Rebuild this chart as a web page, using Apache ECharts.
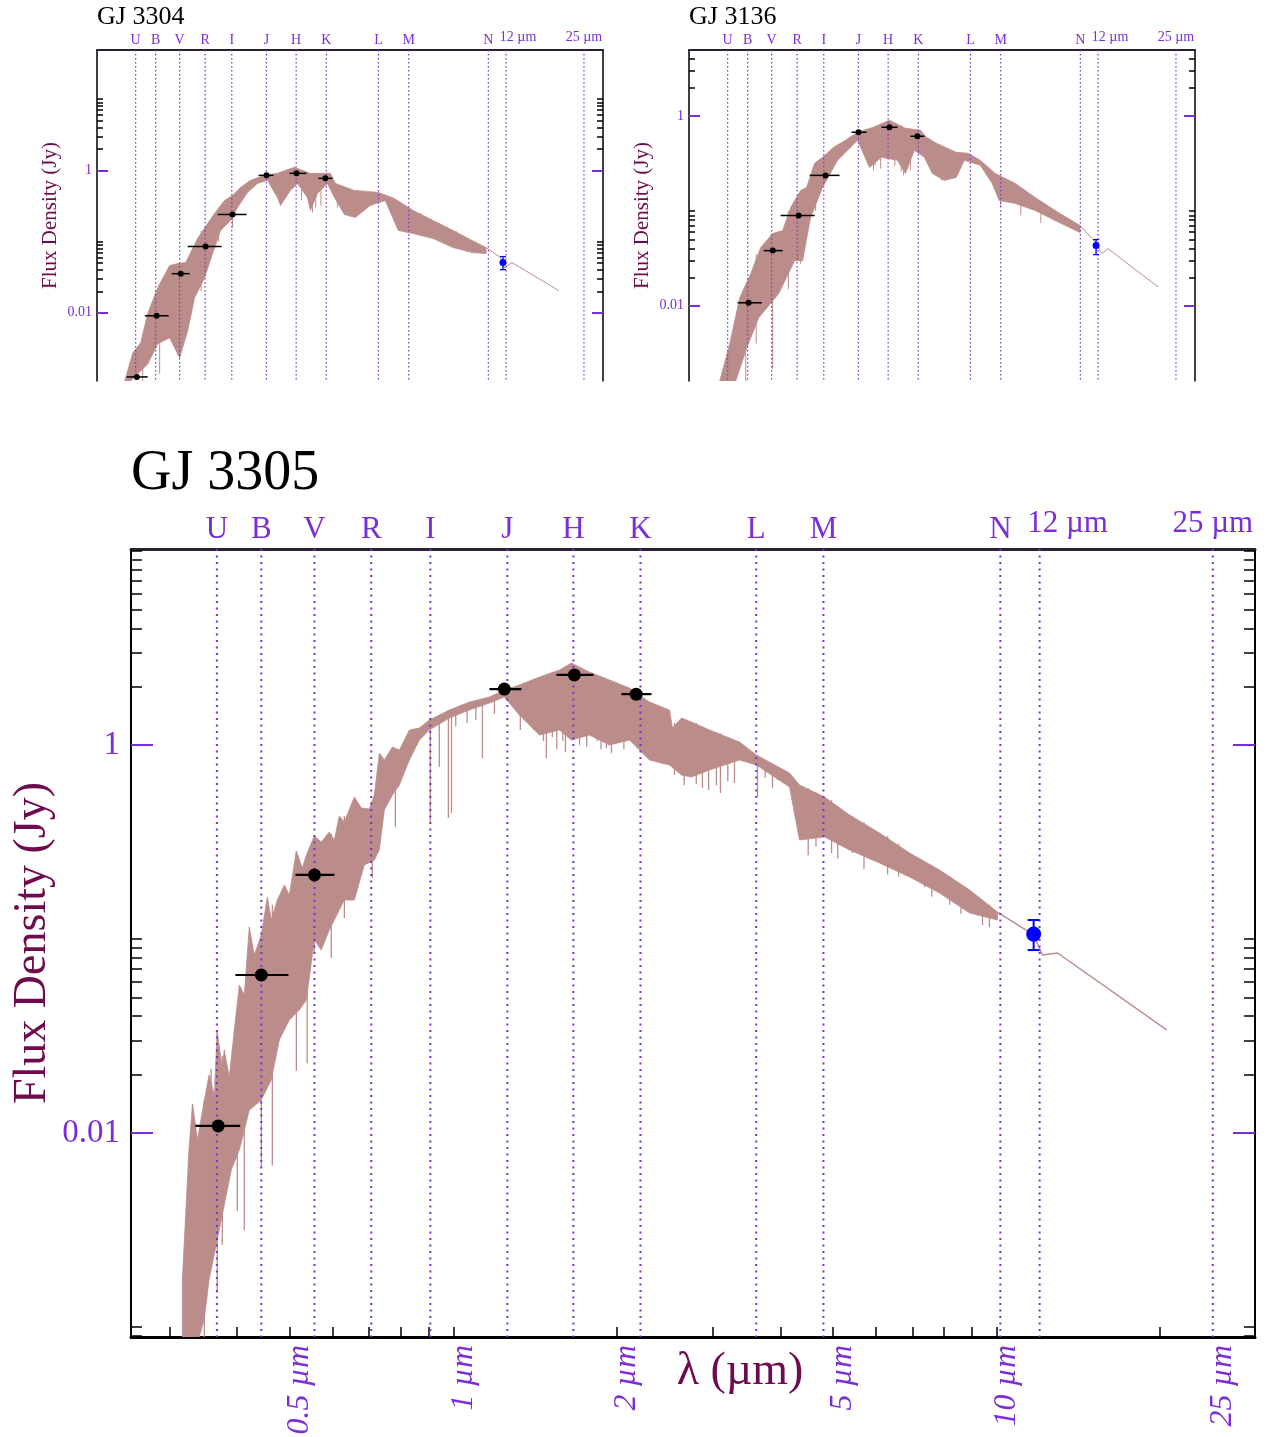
<!DOCTYPE html>
<html>
<head>
<meta charset="utf-8">
<title>GJ 3305 SED</title>
<script src="https://cdn.jsdelivr.net/npm/echarts@6/dist/echarts.min.js"></script>
<style>
  html, body { margin: 0; padding: 0; background: #fff; }
  #chart { width: 1271px; height: 1437px; }
</style>
</head>
<body>
<div id="chart"></div>
<script>
// ---------------- shared axis values ----------------
var bandNames = ['U', 'B', 'V', 'R', 'I', 'J', 'H', 'K', 'L', 'M', 'N'];
var bandWave = [0.367, 0.443, 0.555, 0.706, 0.907, 1.257, 1.663, 2.21, 3.61, 4.80, 10.16];
var micronWave = [12, 25];
var micronNames = ['12 µm', '25 µm'];
var xTickVals = [0.3, 0.4, 0.5, 0.6, 0.7, 0.8, 0.9, 1, 2, 3, 4, 5, 6, 7, 8, 9, 10, 20];
var xLabelVals = [0.5, 1, 2, 5, 10, 25];
var yMajorVals = [1, 0.01];
var yMinorVals = [2, 3, 4, 5, 6, 7, 8, 9, 10,
  0.02, 0.03, 0.04, 0.05, 0.06, 0.07, 0.08, 0.09, 0.1,
  0.0002, 0.0003, 0.0004, 0.0005, 0.0006, 0.0007, 0.0008, 0.0009, 0.001];
var xMin = 0.255, xMax = 29.9;

// ---------------- GJ 3305 (big panel) ----------------
// model spectrum: upper and lower edge of the absorption-line band (Jy)
var mainTopWave = [0.317, 0.326, 0.331, 0.338, 0.348, 0.355, 0.363, 0.3675, 0.3755, 0.3786, 0.3868, 0.3951, 0.4036, 0.4122,
  0.4210, 0.4300, 0.4430, 0.4545, 0.4622, 0.4742, 0.4885, 0.4989, 0.5139, 0.5271, 0.5362, 0.5546, 0.5713, 0.5909, 0.6037,
  0.6166, 0.6298, 0.6571, 0.6770, 0.7003, 0.7153, 0.7307, 0.7463, 0.7722, 0.7954, 0.8299, 0.8658, 0.9033, 0.9831, 1.070,
  1.165, 1.241, 1.323, 1.440, 1.568, 1.649, 1.780, 1.938, 2.110, 2.296, 2.499, 2.531, 2.630, 2.744, 2.961, 3.363, 3.614,
  4.157, 4.337, 4.824, 5.363, 6.088, 6.917, 7.852, 8.920, 10.04];
var mainTopFlux = [0.00175, 0.0082, 0.0141, 0.0092, 0.0148, 0.0199, 0.0157, 0.0336, 0.0211, 0.0268, 0.0194, 0.0340, 0.0579, 0.0514,
  0.1153, 0.0827, 0.1049, 0.1646, 0.1253, 0.1589, 0.1899, 0.1686, 0.2842, 0.2323, 0.2710, 0.3396, 0.3162, 0.3560, 0.3238,
  0.4305, 0.4010, 0.5395, 0.4734, 0.4678, 0.5525, 0.9095, 0.8369, 0.9765, 0.9424, 1.195, 1.224, 1.346, 1.515, 1.665,
  1.768, 1.920, 2.038, 2.242, 2.436, 2.647, 2.378, 2.163, 1.967, 1.665, 1.515, 1.224, 1.378, 1.314, 1.195, 1.036, 0.8882,
  0.7172, 0.6220, 0.5395, 0.4356, 0.3518, 0.2775, 0.2268, 0.1789, 0.1377];
var mainBotWave = [0.317, 0.3405, 0.348, 0.355, 0.3707, 0.3901, 0.4036, 0.4210, 0.4430, 0.4622, 0.4782, 0.4989, 0.5205, 0.5362,
  0.5546, 0.5713, 0.5909, 0.6298, 0.6571, 0.6856, 0.7153, 0.7307, 0.7463, 0.7722, 0.7954, 0.8299, 0.8658, 0.9033, 0.9831,
  1.070, 1.165, 1.241, 1.323, 1.440, 1.568, 1.649, 1.780, 1.938, 2.110, 2.296, 2.499, 2.630, 2.744, 2.961, 3.363, 3.614,
  4.157, 4.337, 4.824, 5.363, 6.088, 6.917, 7.852, 8.920, 10.04];
var mainBotFlux = [0.0006, 0.0006, 0.0011, 0.00175, 0.00316, 0.00645, 0.00818, 0.0131, 0.0148, 0.0188, 0.0302, 0.0382, 0.0431, 0.0485,
  0.0989, 0.0877, 0.1112, 0.1589, 0.1589, 0.2406, 0.2554, 0.2875, 0.4623, 0.5525, 0.6220, 0.8369, 1.061, 1.195, 1.378,
  1.515, 1.646, 1.768, 1.428, 1.126, 1.195, 1.061, 1.126, 1.0, 1.061, 0.8369, 0.7887, 0.7003, 0.6840, 0.7433, 0.8369, 0.7887,
  0.6074, 0.3238, 0.3355, 0.2875, 0.2464, 0.2087, 0.1726, 0.1361, 0.1253];
// single absorption lines reaching below the band
var mainSpikeWave = [0.331, 0.348, 0.358, 0.3675, 0.3755, 0.4002, 0.4122, 0.443, 0.4642, 0.514, 0.538, 0.5546, 0.596, 0.630,
  0.709, 0.782, 0.907, 0.942, 0.979, 0.992, 1.01, 1.06, 1.10, 1.131, 1.19, 1.328, 1.363, 1.404, 1.465, 1.483, 1.521, 1.55,
  1.59, 1.608, 1.63, 1.707, 1.73, 1.76, 1.84, 1.87, 1.913, 1.954, 2.02, 2.06, 2.24, 2.316, 2.38, 2.44, 2.553, 2.66, 2.80,
  2.874, 2.95, 3.05, 3.102, 3.2, 3.292, 3.630, 3.75, 3.868, 3.95, 4.5, 4.65, 4.968, 5.1, 5.43, 5.7, 6.3, 6.6, 7.37, 7.6,
  8.2, 8.6, 9.42, 9.7];
var mainSpikeHigh = [0.0141, 0.0148, 0.0214, 0.0336, 0.025, 0.015, 0.05, 0.10, 0.15, 0.28, 0.27, 0.34, 0.35, 0.43,
  0.5, 0.95, 1.33, 1.40, 1.48, 1.49, 1.55, 1.62, 1.7, 1.72, 1.8, 2.04, 2.1, 2.15, 2.25, 2.3, 2.35, 2.4,
  2.45, 2.5, 2.55, 2.5, 2.45, 2.4, 2.3, 2.25, 2.2, 2.15, 2.0, 1.95, 1.75, 1.66, 1.6, 1.55, 1.3, 1.35, 1.3,
  1.25, 1.2, 1.15, 1.15, 1.1, 1.06, 0.88, 0.84, 0.78, 0.77, 0.6, 0.57, 0.52, 0.48, 0.43, 0.40, 0.34, 0.31, 0.25, 0.24,
  0.21, 0.19, 0.155, 0.15];
var mainSpikeLow = [0.00117, 0.0006, 0.00291, 0.0015, 0.00265, 0.00396, 0.00316, 0.00668, 0.0068, 0.0209, 0.0229, 0.0858, 0.0799, 0.1283,
  0.2062, 0.378, 0.396, 0.770, 0.4205, 0.4462, 1.25, 1.3, 1.35, 0.857, 1.45, 1.195, 1.35, 1.2, 1.05, 0.857, 1.1, 0.95,
  1.05, 0.92, 1.2, 1.0, 1.1, 0.98, 1.05, 0.95, 0.965, 0.91, 1.05, 0.95, 0.95, 0.867, 0.85, 0.8, 0.70, 0.62, 0.63,
  0.6005, 0.586, 0.62, 0.566, 0.65, 0.637, 0.54, 0.68, 0.60, 0.66, 0.27, 0.30, 0.2775, 0.26, 0.2775, 0.23, 0.215, 0.21, 0.185, 0.165,
  0.15, 0.135, 0.118, 0.115];
// thin long-wavelength tail
var mainTailWave = [10.04, 11.7, 12.15, 12.95, 20.56];
var mainTailFlux = [0.1377, 0.1049, 0.0827, 0.0847, 0.034];
// photometry (black) with filter widths, and the mid-IR point (blue)
var mainPhotWave = [0.369, 0.443, 0.555, 1.241, 1.670, 2.170];
var mainPhotFlux = [0.01087, 0.0652, 0.214, 1.944, 2.30, 1.83];
var mainPhotLo = [0.335, 0.397, 0.512, 1.165, 1.548, 2.039];
var mainPhotHi = [0.405, 0.497, 0.604, 1.334, 1.811, 2.316];
var mainIrWave = [11.7];
var mainIrFlux = [0.106];
var mainIrLo = [0.0877];
var mainIrHi = [0.1253];

// ---------------- GJ 3304 (top left) ----------------
var leftTopWave = [0.331, 0.357, 0.3848, 0.411, 0.4516, 0.5055, 0.5448, 0.5875, 0.6577, 0.7225, 0.7717, 0.8476, 0.9138, 0.985,
  1.082, 1.234, 1.395, 1.636, 1.902, 2.295, 2.405, 2.876, 3.605, 4.189, 5.006, 6.04, 7.294, 8.715, 9.945];
var leftTopFlux = [0.0011, 0.00273, 0.00378, 0.00968, 0.0225, 0.0459, 0.049, 0.0506, 0.1103, 0.1793, 0.248, 0.378, 0.4445, 0.5762,
  0.7232, 0.8503, 0.9074, 1.102, 0.9074, 0.9074, 0.656, 0.5227, 0.49, 0.4034, 0.2732, 0.1976, 0.1429, 0.1033, 0.0823];
var leftBotWave = [0.3503, 0.411, 0.4516, 0.5055, 0.5552, 0.5987, 0.6393, 0.7023, 0.757, 0.8164, 0.8969, 0.9577, 1.052, 1.156,
  1.270, 1.395, 1.435, 1.576, 1.683, 1.849, 1.902, 2.031, 2.232, 2.384, 2.618, 2.903, 3.343, 3.848, 4.349, 5.006, 6.04,
  7.294, 8.715, 9.945];
var leftBotFlux = [0.0008, 0.00191, 0.00366, 0.00445, 0.00232, 0.00558, 0.01627, 0.0311, 0.0678, 0.1429, 0.1976, 0.3012, 0.49, 0.656,
  0.7232, 0.4167, 0.3214, 0.5227, 0.656, 0.4167, 0.2732, 0.4744, 0.656, 0.4167, 0.24, 0.2178, 0.3214, 0.378, 0.1429, 0.1297, 0.1103,
  0.0823, 0.070, 0.0678];
var leftSpikeWave = [0.392, 0.460, 0.48, 0.5448, 0.62, 0.68, 0.80, 0.914, 1.45, 1.52, 1.75, 1.85, 1.939, 2.0, 2.1, 2.45, 2.6,
  4.6, 5.4, 6.4, 7.5, 8.3];
var leftSpikeHigh = [0.003, 0.02, 0.03, 0.049, 0.07, 0.14, 0.3, 0.44, 0.95, 0.95, 1.0, 0.95, 0.9, 0.9, 0.9, 0.62, 0.56,
  0.33, 0.25, 0.18, 0.14, 0.11];
var leftSpikeLow = [0.0008, 0.00138, 0.004, 0.0032, 0.012, 0.02, 0.1, 0.1575, 0.4, 0.45, 0.38, 0.42, 0.2557, 0.3, 0.32, 0.3, 0.26,
  0.16, 0.12, 0.1, 0.085, 0.072];
var leftTailWave = [9.945, 11.4, 11.8, 12.7, 19.75];
var leftTailFlux = [0.0823, 0.0595, 0.043, 0.0506, 0.0204];
var leftPhotWave = [0.371, 0.447, 0.561, 0.709, 0.914, 1.258, 1.668, 2.190];
var leftPhotFlux = [0.001255, 0.00907, 0.0354, 0.0851, 0.240, 0.8503, 0.9074, 0.7718];
var leftPhotLo = [0.337, 0.400, 0.515, 0.599, 0.794, 1.167, 1.561, 2.051];
var leftPhotHi = [0.411, 0.501, 0.610, 0.824, 1.042, 1.344, 1.832, 2.339];
var leftIrWave = [11.66];
var leftIrFlux = [0.0506];
var leftIrLo = [0.0403];
var leftIrHi = [0.0615];

// ---------------- GJ 3136 (top right) ----------------
var rightTopWave = [0.3406, 0.3742, 0.411, 0.4559, 0.5007, 0.5605, 0.6158, 0.6641, 0.7294, 0.7717, 0.8318, 0.8969, 0.9945, 1.113,
  1.246, 1.448, 1.683, 1.956, 2.253, 2.384, 2.618, 3.158, 3.537, 3.960, 4.558, 5.500, 6.638, 8.012, 10.13];
var rightTopFlux = [0.00161, 0.00396, 0.01215, 0.0218, 0.0411, 0.0578, 0.0622, 0.1089, 0.1648, 0.1773, 0.3181, 0.3683, 0.4695, 0.557,
  0.6771, 0.7649, 0.9072, 0.7464, 0.711, 0.5995, 0.5179, 0.416, 0.406, 0.3422, 0.2493, 0.1954, 0.139, 0.1012, 0.0702];
var rightBotWave = [0.347, 0.3959, 0.4391, 0.4913, 0.593, 0.6893, 0.743, 0.8012, 0.8969, 1.033, 1.246, 1.395, 1.561, 1.815,
  1.956, 2.130, 2.339, 2.521, 2.822, 3.158, 3.406, 3.960, 4.430, 4.733, 5.500, 6.638, 8.012, 10.13];
var rightBotFlux = [0.0008, 0.0008, 0.00359, 0.00746, 0.0134, 0.0299, 0.0299, 0.0853, 0.1773, 0.3422, 0.557, 0.2886, 0.3683, 0.3422,
  0.2493, 0.4367, 0.3683, 0.2493, 0.2102, 0.2262, 0.3422, 0.3031, 0.1954, 0.1291, 0.1201, 0.1012, 0.0793, 0.0592];
var rightSpikeWave = [0.435, 0.48, 0.5605, 0.65, 0.7294, 0.84, 1.448, 1.47, 1.55, 1.77, 1.88, 1.92, 2.05, 2.45, 2.75,
  4.8, 5.8, 7.0];
var rightSpikeHigh = [0.012, 0.035, 0.05, 0.1, 0.16, 0.32, 0.75, 0.75, 0.8, 0.85, 0.8, 0.75, 0.72, 0.58, 0.5,
  0.22, 0.17, 0.12];
var rightSpikeLow = [0.0008, 0.004, 0.00215, 0.015, 0.0278, 0.1, 0.268, 0.3, 0.28, 0.3, 0.26, 0.2375, 0.27, 0.3, 0.21,
  0.11, 0.09, 0.075];
var rightTailWave = [10.13, 11.56, 12.46, 13.18, 19.56, 21.09];
var rightTailFlux = [0.0702, 0.0487, 0.0355, 0.0401, 0.0184, 0.0159];
var rightPhotWave = [0.447, 0.561, 0.716, 0.922, 1.258, 1.683, 2.190];
var rightPhotFlux = [0.01076, 0.0382, 0.0896, 0.2375, 0.6771, 0.7649, 0.6143];
var rightPhotLo = [0.403, 0.515, 0.604, 0.794, 1.178, 1.561, 2.051];
var rightPhotHi = [0.506, 0.616, 0.832, 1.052, 1.356, 1.815, 2.339];
var rightIrWave = [11.78];
var rightIrFlux = [0.0432];
var rightIrLo = [0.0347];
var rightIrHi = [0.0499];

// ---------------- styles ----------------
var specColor = '#bb8d8a';
var purple = '#7a2ed6';
var maroon = '#6d0b4d';
var serif = 'Liberation Serif';

var bigStyle = {
  tickFont: 33, tickMargin: 11, nameFont: 46, nameGap: 75, bandFont: 31, bandMargin: 4, microMargin: 10, microPad: 56,
  majorLen: 22, minorLen: 11, frameWidth: 2, topWidth: 3, dotWidth: 2, dotDash: [2, 4.5], spikeWidth: 1.3, tailWidth: 1.4,
  pointSize: 13, barWidth: 2.2, irSize: 15, irWidth: 2, capHalf: 6, showBottom: true
};
var smallStyle = {
  tickFont: 14, tickMargin: 5, nameFont: 21, nameGap: 36, bandFont: 14, bandMargin: 3, microMargin: 6, microPad: 24,
  majorLen: 11, minorLen: 6, frameWidth: 1.5, topWidth: 2, dotWidth: 1.2, dotDash: [1.5, 2.5], spikeWidth: 1, tailWidth: 1,
  pointSize: 6, barWidth: 1.5, irSize: 7, irWidth: 1.3, capHalf: 3, showBottom: false
};

var panels = [
  {
    title: 'GJ 3304', titleLeft: 97, titleTop: 4, titleSize: 26, rect: [97, 50, 506, 331], yMin: 0.0011, yMax: 49, st: smallStyle,
    topWave: leftTopWave, topFlux: leftTopFlux, botWave: leftBotWave, botFlux: leftBotFlux,
    spikeWave: leftSpikeWave, spikeHigh: leftSpikeHigh, spikeLow: leftSpikeLow,
    tailWave: leftTailWave, tailFlux: leftTailFlux,
    photWave: leftPhotWave, photFlux: leftPhotFlux, photLo: leftPhotLo, photHi: leftPhotHi,
    irWave: leftIrWave, irFlux: leftIrFlux, irLo: leftIrLo, irHi: leftIrHi
  },
  {
    title: 'GJ 3136', titleLeft: 689, titleTop: 4, titleSize: 26, rect: [689, 50, 506, 331], yMin: 0.00161, yMax: 4.99, st: smallStyle,
    topWave: rightTopWave, topFlux: rightTopFlux, botWave: rightBotWave, botFlux: rightBotFlux,
    spikeWave: rightSpikeWave, spikeHigh: rightSpikeHigh, spikeLow: rightSpikeLow,
    tailWave: rightTailWave, tailFlux: rightTailFlux,
    photWave: rightPhotWave, photFlux: rightPhotFlux, photLo: rightPhotLo, photHi: rightPhotHi,
    irWave: rightIrWave, irFlux: rightIrFlux, irLo: rightIrLo, irHi: rightIrHi
  },
  {
    title: 'GJ 3305', titleLeft: 131, titleTop: 446, titleSize: 56, rect: [131, 549, 1124, 788], yMin: 0.000887, yMax: 10.25, st: bigStyle,
    topWave: mainTopWave, topFlux: mainTopFlux, botWave: mainBotWave, botFlux: mainBotFlux,
    spikeWave: mainSpikeWave, spikeHigh: mainSpikeHigh, spikeLow: mainSpikeLow,
    tailWave: mainTailWave, tailFlux: mainTailFlux,
    photWave: mainPhotWave, photFlux: mainPhotFlux, photLo: mainPhotLo, photHi: mainPhotHi,
    irWave: mainIrWave, irFlux: mainIrFlux, irLo: mainIrLo, irHi: mainIrHi
  }
];

function zip(a, b) {
  return a.map(function (v, i) { return [v, b[i]]; });
}
function zip4(a, b, c, d) {
  return a.map(function (v, i) { return [v, b[i], c[i], d[i]]; });
}
function bandLabel(v) {
  for (var i = 0; i < bandWave.length; i++) {
    if (Math.abs(Math.log(v / bandWave[i])) < 0.005) return bandNames[i];
  }
  return '';
}

// polygon between the two envelopes + single deep lines, drawn via the axes
function spectrumRender(p) {
  return function (params, api) {
    var cs = params.coordSys;
    var yLow = cs.y + cs.height;
    function pt(w, f) {
      var c = api.coord([w, f]);
      return [c[0], Math.min(c[1], yLow)];
    }
    var pts = [];
    for (var i = 0; i < p.topWave.length; i++) pts.push(pt(p.topWave[i], p.topFlux[i]));
    for (var j = p.botWave.length - 1; j >= 0; j--) pts.push(pt(p.botWave[j], p.botFlux[j]));
    var children = [{
      type: 'polygon', shape: { points: pts },
      style: { fill: specColor, stroke: specColor, lineWidth: 0.8 }
    }];
    for (var k = 0; k < p.spikeWave.length; k++) {
      var a = pt(p.spikeWave[k], p.spikeHigh[k]);
      var b = pt(p.spikeWave[k], p.spikeLow[k]);
      children.push({
        type: 'line', shape: { x1: a[0], y1: a[1], x2: b[0], y2: b[1] },
        style: { stroke: specColor, lineWidth: p.st.spikeWidth }
      });
    }
    return { type: 'group', children: children };
  };
}

function bandLineRender(st) {
  return function (params, api) {
    var cs = params.coordSys;
    var x = api.coord([api.value(0), api.value(1)])[0];
    return {
      type: 'line', shape: { x1: x, y1: cs.y, x2: x, y2: cs.y + cs.height },
      style: { stroke: purple, lineWidth: st.dotWidth, lineDash: st.dotDash }
    };
  };
}

function hBarRender(st) {
  return function (params, api) {
    var a = api.coord([api.value(2), api.value(1)]);
    var b = api.coord([api.value(3), api.value(1)]);
    return {
      type: 'line', shape: { x1: a[0], y1: a[1], x2: b[0], y2: b[1] },
      style: { stroke: '#000', lineWidth: st.barWidth }
    };
  };
}

function vBarRender(st) {
  return function (params, api) {
    var lo = api.coord([api.value(0), api.value(2)]);
    var hi = api.coord([api.value(0), api.value(3)]);
    var s = { stroke: '#0000ff', lineWidth: st.irWidth };
    var c = st.capHalf;
    return {
      type: 'group', children: [
        { type: 'line', shape: { x1: lo[0], y1: lo[1], x2: hi[0], y2: hi[1] }, style: s },
        { type: 'line', shape: { x1: lo[0] - c, y1: lo[1], x2: lo[0] + c, y2: lo[1] }, style: s },
        { type: 'line', shape: { x1: hi[0] - c, y1: hi[1], x2: hi[0] + c, y2: hi[1] }, style: s }
      ]
    };
  };
}

var option = {
  animation: false,
  backgroundColor: '#ffffff',
  title: [], grid: [], xAxis: [], yAxis: [], series: [],
  graphic: [{
    type: 'text', x: 740, y: 1372,
    style: { text: 'λ (µm)', fill: maroon, fontSize: 46, fontFamily: serif, align: 'center', verticalAlign: 'middle' }
  }]
};

panels.forEach(function (p, g) {
  var st = p.st;
  option.title.push({
    text: p.title, left: p.titleLeft, top: p.titleTop, padding: 0,
    textStyle: { fontFamily: serif, fontSize: p.titleSize, fontWeight: 'normal', color: '#000' }
  });
  option.grid.push({
    left: p.rect[0], top: p.rect[1], width: p.rect[2], height: p.rect[3],
    containLabel: false, outerBoundsMode: 'none'
  });

  // bottom wavelength axis (only drawn on the big panel)
  option.xAxis.push({
    type: 'log', gridIndex: g, position: 'bottom', min: xMin, max: xMax,
    axisLine: { show: st.showBottom, onZero: false, lineStyle: { color: '#000', width: 3 } },
    axisTick: { show: st.showBottom, inside: true, length: 10, customValues: xTickVals, lineStyle: { color: '#000', width: 1.5 } },
    axisLabel: {
      show: st.showBottom, customValues: xLabelVals, rotate: 90, margin: 8,
      verticalAlign: 'top', lineHeight: 20,
      color: purple, fontFamily: serif, fontStyle: 'italic', fontSize: 32,
      formatter: function (v) { return v + ' µm'; }
    },
    splitLine: { show: false }
  });
  // top axis: photometric band letters
  option.xAxis.push({
    type: 'log', gridIndex: g, position: 'top', min: xMin, max: xMax,
    axisLine: { show: true, onZero: false, lineStyle: { color: '#2a2233', width: st.topWidth } },
    axisTick: { show: false },
    axisLabel: {
      customValues: bandWave, margin: st.bandMargin, color: purple, fontFamily: serif, fontSize: st.bandFont,
      formatter: bandLabel
    },
    splitLine: { show: false }
  });
  // top axis: 12 and 25 micron labels
  option.xAxis.push({
    type: 'log', gridIndex: g, position: 'top', min: xMin, max: xMax,
    axisLine: { show: false, onZero: false },
    axisTick: { show: false },
    axisLabel: {
      customValues: micronWave, margin: st.microMargin, color: purple, fontFamily: serif, fontSize: st.bandFont,
      formatter: function (v) { return v < 20 ? '{shift|' + micronNames[0] + '}' : micronNames[1]; },
      rich: { shift: { padding: [0, 0, 0, st.microPad], color: purple, fontFamily: serif, fontSize: st.bandFont } }
    },
    splitLine: { show: false }
  });

  // left: major (purple, labelled) and minor (black) ticks
  option.yAxis.push({
    type: 'log', gridIndex: g, position: 'left', min: p.yMin, max: p.yMax,
    name: 'Flux Density (Jy)', nameLocation: 'middle', nameGap: st.nameGap, nameMoveOverlap: false,
    nameTextStyle: { color: maroon, fontFamily: serif, fontSize: st.nameFont },
    axisLine: { show: true, onZero: false, lineStyle: { color: '#000', width: st.frameWidth } },
    axisTick: { inside: true, length: st.majorLen, customValues: yMajorVals, lineStyle: { color: purple, width: 2 } },
    axisLabel: {
      customValues: yMajorVals, margin: st.tickMargin, color: purple, fontFamily: serif, fontSize: st.tickFont,
      formatter: function (v) { return v >= 1 ? '1' : '0.01'; }
    },
    splitLine: { show: false }
  });
  option.yAxis.push({
    type: 'log', gridIndex: g, position: 'left', min: p.yMin, max: p.yMax,
    axisLine: { show: false, onZero: false },
    axisTick: { inside: true, length: st.minorLen, customValues: yMinorVals, lineStyle: { color: '#000', width: 1.5 } },
    axisLabel: { show: false },
    splitLine: { show: false }
  });
  // right: same ticks, no labels
  option.yAxis.push({
    type: 'log', gridIndex: g, position: 'right', min: p.yMin, max: p.yMax,
    axisLine: { show: true, onZero: false, lineStyle: { color: '#000', width: st.frameWidth } },
    axisTick: { inside: true, length: st.majorLen, customValues: yMajorVals, lineStyle: { color: purple, width: 2 } },
    axisLabel: { show: false },
    splitLine: { show: false }
  });
  option.yAxis.push({
    type: 'log', gridIndex: g, position: 'right', min: p.yMin, max: p.yMax,
    axisLine: { show: false, onZero: false },
    axisTick: { inside: true, length: st.minorLen, customValues: yMinorVals, lineStyle: { color: '#000', width: 1.5 } },
    axisLabel: { show: false },
    splitLine: { show: false }
  });

  var xi = 3 * g, yi = 4 * g;
  option.series.push({
    type: 'custom', name: p.title + ' model', xAxisIndex: xi, yAxisIndex: yi, clip: true, silent: true, z: 2,
    data: [[1, 1]], renderItem: spectrumRender(p)
  });
  option.series.push({
    type: 'line', name: p.title + ' tail', xAxisIndex: xi, yAxisIndex: yi, silent: true, z: 2,
    data: zip(p.tailWave, p.tailFlux), symbol: 'none', showSymbol: false,
    lineStyle: { color: specColor, width: st.tailWidth }
  });
  option.series.push({
    type: 'custom', name: p.title + ' bands', xAxisIndex: xi, yAxisIndex: yi, silent: true, z: 3,
    data: bandWave.concat(micronWave).map(function (w) { return [w, 1]; }),
    renderItem: bandLineRender(st)
  });
  option.series.push({
    type: 'custom', name: p.title + ' widths', xAxisIndex: xi, yAxisIndex: yi, silent: true, z: 4,
    data: zip4(p.photWave, p.photFlux, p.photLo, p.photHi), renderItem: hBarRender(st)
  });
  option.series.push({
    type: 'scatter', name: p.title + ' phot', xAxisIndex: xi, yAxisIndex: yi, silent: true, z: 5,
    data: zip(p.photWave, p.photFlux), symbol: 'circle', symbolSize: st.pointSize,
    itemStyle: { color: '#000', opacity: 1 }
  });
  option.series.push({
    type: 'custom', name: p.title + ' ir err', xAxisIndex: xi, yAxisIndex: yi, silent: true, z: 4,
    data: zip4(p.irWave, p.irFlux, p.irLo, p.irHi), renderItem: vBarRender(st)
  });
  option.series.push({
    type: 'scatter', name: p.title + ' ir', xAxisIndex: xi, yAxisIndex: yi, silent: true, z: 5,
    data: zip(p.irWave, p.irFlux), symbol: 'circle', symbolSize: st.irSize,
    itemStyle: { color: '#0000ff', opacity: 1 }
  });
});

var chart = echarts.init(document.getElementById('chart'), null, { renderer: 'canvas' });
chart.setOption(option);
</script>
</body>
</html>
